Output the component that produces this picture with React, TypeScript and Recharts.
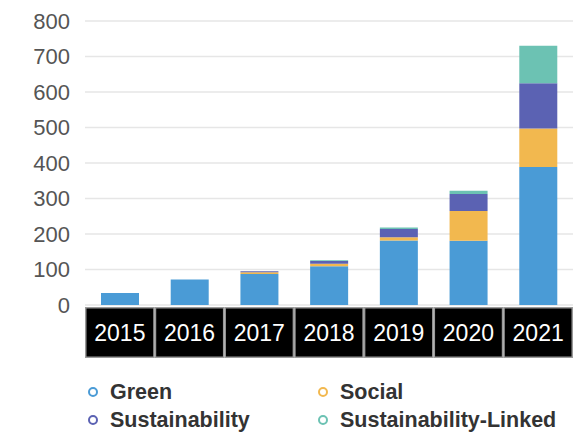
// Stacked bar chart: sustainable bond issuance by type, 2015-2021
import { BarChart, Bar, XAxis, YAxis, CartesianGrid } from "recharts";

const years = ["2015", "2016", "2017", "2018", "2019", "2020", "2021"];
const green = [34, 72, 87, 109, 182, 181, 389];
const social = [0, 0, 5, 7, 9, 84, 108];
const sustainability = [0, 0, 3, 8, 23, 48, 128];
const sustainabilityLinked = [0, 0, 0, 2, 4, 9, 105];
const yTicks = [0, 100, 200, 300, 400, 500, 600, 700, 800];

const series = [
  { key: "green", name: "Green", color: "#4a9bd6", values: green },
  { key: "social", name: "Social", color: "#f2b84f", values: social },
  { key: "sustainability", name: "Sustainability", color: "#5b62b3", values: sustainability },
  { key: "linked", name: "Sustainability-Linked", color: "#6cc2b3", values: sustainabilityLinked },
];

const data = years.map((year, i) => {
  const row: Record<string, string | number> = { year };
  series.forEach((s) => {
    row[s.key] = s.values[i];
  });
  return row;
});

const FONT = "'Liberation Sans', Arial, Helvetica, sans-serif";
const BAND = (573 - 85) / years.length;

function YearTick({ x, y, payload }: { x?: number; y?: number; payload?: { value: string } }) {
  if (x === undefined || y === undefined || !payload) return null;
  return (
    <g>
      <rect x={x - BAND / 2} y={y + 2} width={BAND} height={51} fill="#9a9a9a" />
      <rect x={x - BAND / 2 + 1.5} y={y + 3.5} width={BAND - 3} height={48} fill="#000" />
      <text
        x={x}
        y={y + 35.5}
        textAnchor="middle"
        fill="#fff"
        fontSize={23}
        fontFamily={FONT}
      >
        {payload.value}
      </text>
    </g>
  );
}

export default function App() {
  return (
    <div style={{ position: "absolute", left: 0, top: 0, width: 573, height: 432, background: "#fff" }}>
      <BarChart
        width={573}
        height={432}
        data={data}
        margin={{ top: 21, right: 0, left: 0, bottom: 74 }}
      >
        <CartesianGrid vertical={false} stroke="#e6e6e6" strokeWidth={1.5} />
        <XAxis
          dataKey="year"
          axisLine={false}
          tickLine={false}
          tickSize={0}
          tickMargin={0}
          height={53}
          interval={0}
          tick={<YearTick />}
        />
        <YAxis
          width={85}
          domain={[0, 800]}
          ticks={yTicks}
          axisLine={false}
          tickLine={false}
          tickSize={0}
          tickMargin={15}
          tick={{ fill: "#555", fontSize: 22, fontFamily: FONT }}
        />
        {series.map((s) => (
          <Bar
            key={s.key}
            dataKey={s.key}
            name={s.name}
            stackId="a"
            fill={s.color}
            barSize={38}
            isAnimationActive={false}
          />
        ))}
      </BarChart>
      <div
        style={{
          position: "absolute",
          left: 88,
          top: 379,
          display: "grid",
          gridTemplateColumns: "230px auto",
          rowGap: 2,
          fontFamily: FONT,
          fontWeight: "bold",
          fontSize: 21.5,
          color: "#333",
        }}
      >
        {series.map((s) => (
          <div key={s.key} style={{ display: "flex", alignItems: "center", height: 26 }}>
            <span
              style={{
                display: "inline-block",
                width: 6,
                height: 6,
                borderRadius: "50%",
                border: `2.5px solid ${s.color}`,
                marginRight: 12,
              }}
            />
            {s.name}
          </div>
        ))}
      </div>
    </div>
  );
}
